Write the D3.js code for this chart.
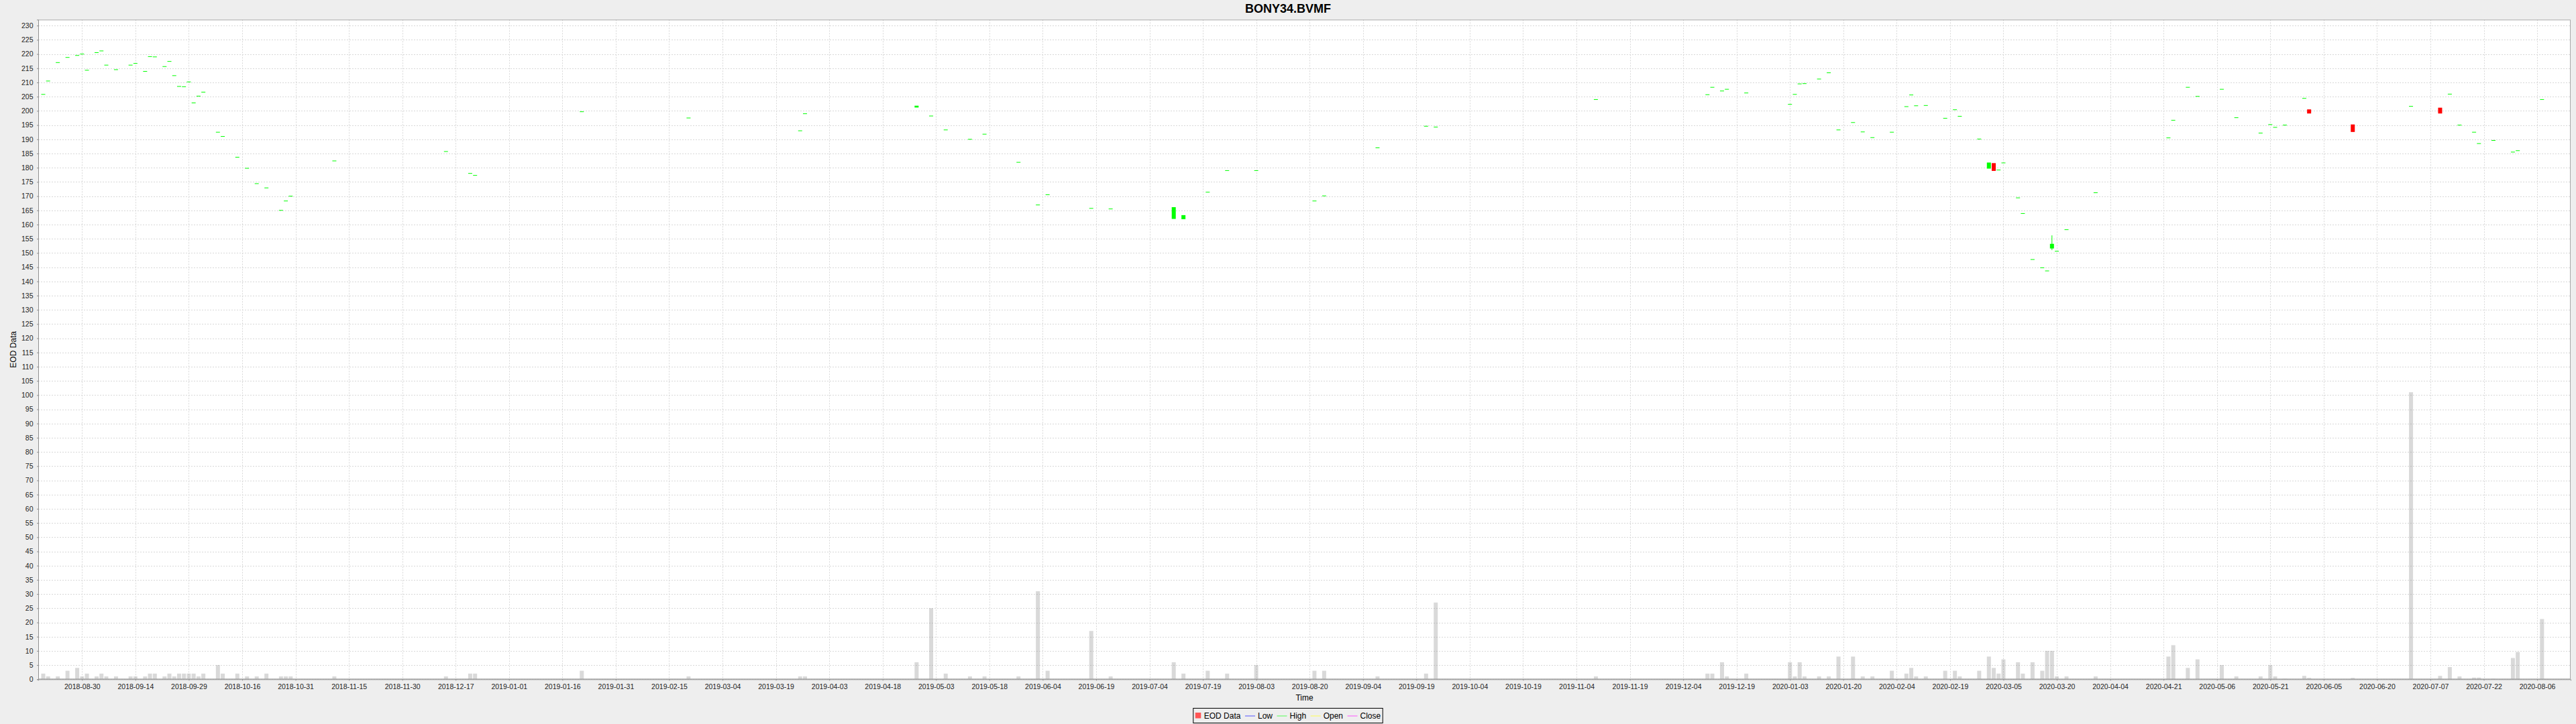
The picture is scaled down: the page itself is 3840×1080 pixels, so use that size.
<!DOCTYPE html>
<html><head><meta charset="utf-8">
<script src="https://cdn.jsdelivr.net/npm/d3@7"></script>
<style>
body{margin:0;background:#eeeeee;}
svg{display:block;}
text{font-family:"Liberation Sans",Arial,sans-serif;}
</style>
</head><body>
<svg id="chart" width="3840" height="1080"></svg>
<script>
const title = "BONY34.BVMF";
const tickLabels = ["2018-08-30","2018-09-14","2018-09-29","2018-10-16","2018-10-31","2018-11-15","2018-11-30","2018-12-17","2019-01-01","2019-01-16","2019-01-31","2019-02-15","2019-03-04","2019-03-19","2019-04-03","2019-04-18","2019-05-03","2019-05-18","2019-06-04","2019-06-19","2019-07-04","2019-07-19","2019-08-03","2019-08-20","2019-09-04","2019-09-19","2019-10-04","2019-10-19","2019-11-04","2019-11-19","2019-12-04","2019-12-19","2020-01-03","2020-01-20","2020-02-04","2020-02-19","2020-03-05","2020-03-20","2020-04-04","2020-04-21","2020-05-06","2020-05-21","2020-06-05","2020-06-20","2020-07-07","2020-07-22","2020-08-06"];
const dates = ["2018-08-20","2018-08-21","2018-08-23","2018-08-27","2018-08-29","2018-08-30","2018-08-31","2018-09-04","2018-09-05","2018-09-06","2018-09-10","2018-09-13","2018-09-14","2018-09-18","2018-09-19","2018-09-20","2018-09-24","2018-09-25","2018-09-26","2018-09-27","2018-09-28","2018-10-01","2018-10-02","2018-10-03","2018-10-04","2018-10-09","2018-10-10","2018-10-15","2018-10-17","2018-10-19","2018-10-23","2018-10-26","2018-10-29","2018-10-30","2018-11-12","2018-12-13","2018-12-20","2018-12-21","2019-01-22","2019-02-21","2019-03-26","2019-03-27","2019-04-29","2019-05-02","2019-05-07","2019-05-14","2019-05-17","2019-05-28","2019-06-03","2019-06-05","2019-06-18","2019-06-24","2019-07-11","2019-07-15","2019-07-22","2019-07-26","2019-08-05","2019-08-21","2019-08-23","2019-09-09","2019-09-23","2019-09-25","2019-11-11","2019-12-12","2019-12-13","2019-12-17","2019-12-18","2019-12-24","2020-01-06","2020-01-07","2020-01-08","2020-01-09","2020-01-14","2020-01-16","2020-01-20","2020-01-23","2020-01-27","2020-01-29","2020-02-04","2020-02-07","2020-02-10","2020-02-11","2020-02-13","2020-02-19","2020-02-21","2020-02-24","2020-02-28","2020-03-03","2020-03-04","2020-03-05","2020-03-06","2020-03-11","2020-03-12","2020-03-16","2020-03-18","2020-03-19","2020-03-20","2020-03-23","2020-03-25","2020-04-02","2020-04-23","2020-04-24","2020-04-29","2020-05-01","2020-05-08","2020-05-13","2020-05-20","2020-05-22","2020-05-25","2020-05-27","2020-06-02","2020-06-03","2020-06-16","2020-07-02","2020-07-10","2020-07-14","2020-07-16","2020-07-21","2020-07-22","2020-07-27","2020-07-31","2020-08-03","2020-08-10"];
const open = [205.8,210.5,217.0,218.8,219.5,220.0,214.3,220.5,221.1,216.1,214.5,216.1,216.7,213.9,219.1,219.0,215.6,217.4,212.4,208.6,208.5,210.2,202.8,205.2,206.6,192.5,191.0,183.7,179.8,174.4,172.9,165.0,168.3,170.0,182.4,185.7,178.0,177.3,199.7,197.5,193.0,199.0,201.3,198.2,193.3,190.0,191.8,181.9,166.9,170.5,165.7,165.5,162.1,162.0,171.4,179.0,179.0,168.3,170.1,187.0,194.6,194.3,204.0,205.7,208.3,207.0,207.6,206.3,202.3,205.8,209.5,209.6,211.2,213.4,193.3,195.9,192.6,190.6,192.5,201.5,205.6,201.8,201.9,197.4,200.4,198.1,190.1,179.8,181.5,179.2,181.7,169.4,163.9,147.7,144.8,143.7,151.7,150.6,158.2,171.2,190.5,196.7,208.3,205.1,207.6,197.6,192.2,195.2,194.2,195.0,204.4,200.4,195.1,201.6,201.0,205.9,195.0,192.5,188.5,189.6,185.5,186.0,204.0];
const close = [205.8,210.5,217.0,218.8,219.5,220.0,214.3,220.5,221.1,216.1,214.5,216.1,216.7,213.9,219.1,219.0,215.6,217.4,212.4,208.6,208.5,210.2,202.8,205.2,206.6,192.5,191.0,183.7,179.8,174.4,172.9,165.0,168.3,170.0,182.4,185.7,178.0,177.3,199.7,197.5,193.0,199.0,201.7,198.2,193.3,190.0,191.8,181.9,166.9,170.5,165.7,165.5,166.0,163.2,171.4,179.0,179.0,168.3,170.1,187.0,194.6,194.3,204.0,205.7,208.3,207.0,207.6,206.3,202.3,205.8,209.5,209.6,211.2,213.4,193.3,195.9,192.6,190.6,192.5,201.5,205.6,201.8,201.9,197.4,200.4,198.1,190.1,181.7,179.0,179.2,181.7,169.4,163.9,147.7,144.8,143.7,153.1,150.6,158.2,171.2,190.5,196.7,208.3,205.1,207.6,197.6,192.2,195.2,194.2,195.0,204.4,199.2,192.7,201.6,199.2,205.9,195.0,192.5,188.5,189.6,185.5,186.0,204.0];
const high = [205.8,210.5,217.0,218.8,219.5,220.0,214.3,220.5,221.1,216.1,214.5,216.1,216.7,213.9,219.1,219.0,215.6,217.4,212.4,208.6,208.5,210.2,202.8,205.2,206.6,192.5,191.0,183.7,179.8,174.4,172.9,165.0,168.3,170.0,182.4,185.7,178.0,177.3,199.7,197.5,193.0,199.0,201.7,198.2,193.3,190.0,191.8,181.9,166.9,170.5,165.7,165.5,166.0,163.2,171.4,179.0,179.0,168.3,170.1,187.0,194.6,194.3,204.0,205.7,208.3,207.0,207.6,206.3,202.3,205.8,209.5,209.6,211.2,213.4,193.3,195.9,192.6,190.6,192.5,201.5,205.6,201.8,201.9,197.4,200.4,198.1,190.1,181.7,181.5,179.2,181.7,169.4,163.9,147.7,144.8,143.7,156.2,150.6,158.2,171.2,190.5,196.7,208.3,205.1,207.6,197.6,192.2,195.2,194.2,195.0,204.4,200.4,195.1,201.6,201.0,205.9,195.0,192.5,188.5,189.6,185.5,186.0,204.0];
const low = [205.8,210.5,217.0,218.8,219.5,220.0,214.3,220.5,221.1,216.1,214.5,216.1,216.7,213.9,219.1,219.0,215.6,217.4,212.4,208.6,208.5,210.2,202.8,205.2,206.6,192.5,191.0,183.7,179.8,174.4,172.9,165.0,168.3,170.0,182.4,185.7,178.0,177.3,199.7,197.5,193.0,199.0,201.3,198.2,193.3,190.0,191.8,181.9,166.9,170.5,165.7,165.5,162.1,162.0,171.4,179.0,179.0,168.3,170.1,187.0,194.6,194.3,204.0,205.7,208.3,207.0,207.6,206.3,202.3,205.8,209.5,209.6,211.2,213.4,193.3,195.9,192.6,190.6,192.5,201.5,205.6,201.8,201.9,197.4,200.4,198.1,190.1,179.8,179.0,179.2,181.7,169.4,163.9,147.7,144.8,143.7,151.0,150.6,158.2,171.2,190.5,196.7,208.3,205.1,207.6,197.6,192.2,195.2,194.2,195.0,204.4,199.2,192.7,201.6,199.2,205.9,195.0,192.5,188.5,189.6,185.5,186.0,204.0];
const volume = [2,1,1,3,4,1,2,1,2,1,1,1,1,1,2,2,1,2,1,2,2,2,2,1,2,5,2,2,1,1,2,1,1,1,1,1,2,2,3,1,1,1,6,25,2,1,1,1,31,3,17,1,6,2,3,2,5,3,3,1,2,27,1,2,2,6,1,2,6,1,6,1,1,1,8,8,1,1,3,2,4,1,1,3,3,1,3,8,4,2,7,6,2,6,3,10,10,1,1,1,8,12,4,7,5,1,1,5,1,0.2,1.2,0.5,0.5,101,1.2,4.3,1,0.6,0.6,0.2,7.5,9.6,21.2];
const legendItems = [
  {label:"EOD Data", type:"box", color:"#ff5555"},
  {label:"Low", type:"line", color:"#5555ff"},
  {label:"High", type:"line", color:"#55ff55"},
  {label:"Open", type:"line", color:"#ffff55"},
  {label:"Close", type:"line", color:"#ff55ff"}
];

// business-day (Mon-Fri) index, like a segmented weekday timeline
function bd(s){
  const t = Date.UTC(+s.slice(0,4), +s.slice(5,7)-1, +s.slice(8,10));
  const days = Math.round((t - Date.UTC(2018,0,1)) / 864e5);
  const w = Math.floor(days/7), d = days - w*7;
  return w*5 + Math.min(d,5);
}

const P = {left:57, top:29.3, right:3832, bottom:1013.3};
const base = bd(tickLabels[0]);
const x = d3.scaleLinear().domain([base-9.03, base+512.9]).range([P.left, P.right]);
const y = d3.scaleLinear().domain([0, 232.1]).range([P.bottom, P.top]);
const xTickVals = tickLabels.map((t,i)=> base + 11*i);
const yTickVals = d3.range(0, 231, 5);

const svg = d3.select("#chart");
svg.append("rect").attr("width",3840).attr("height",1080).attr("fill","#eeeeee");
svg.append("rect").attr("x",P.left).attr("y",P.top).attr("width",P.right-P.left).attr("height",P.bottom-P.top).attr("fill","#ffffff");

// grid
const grid = svg.append("g");
grid.selectAll("line.v").data(xTickVals).join("line")
  .attr("x1",d=>Math.round(x(d))+0.5).attr("x2",d=>Math.round(x(d))+0.5)
  .attr("y1",P.top).attr("y2",P.bottom)
  .attr("stroke","#d8d8d8").attr("stroke-width",1).attr("stroke-dasharray","2,2");
grid.selectAll("line.h").data(yTickVals).join("line")
  .attr("x1",P.left).attr("x2",P.right)
  .attr("y1",d=>Math.round(y(d))+0.5).attr("y2",d=>Math.round(y(d))+0.5)
  .attr("stroke","#d8d8d8").attr("stroke-width",1).attr("stroke-dasharray","2,2");

const data = dates.map((d,i)=>({t:bd(d), o:open[i], h:high[i], l:low[i], c:close[i], v:volume[i]}));
const cw = 6;

// volume bars
svg.append("g").selectAll("rect").data(data).join("rect")
  .attr("x",d=>x(d.t)-cw/2).attr("width",cw)
  .attr("y",d=>y(d.v)).attr("height",d=>P.bottom-y(d.v))
  .attr("fill","rgba(128,128,128,0.3)");

// candles
const cg = svg.append("g");
data.forEach(d=>{
  const col = d.c >= d.o ? "#00ff00" : "#ff0000";
  const cx = x(d.t);
  if (d.h > Math.max(d.o,d.c) || d.l < Math.min(d.o,d.c)) {
    cg.append("line").attr("x1",cx).attr("x2",cx).attr("y1",y(d.h)).attr("y2",y(d.l))
      .attr("stroke",col).attr("stroke-width",1);
  }
  const top = y(Math.max(d.o,d.c)), bot = y(Math.min(d.o,d.c));
  cg.append("rect").attr("x",cx-cw/2).attr("width",cw)
    .attr("y", top - 0.5).attr("height", Math.max(1, bot-top+1))
    .attr("fill",col);
});

// outline
svg.append("rect").attr("x",P.left+0.5).attr("y",P.top+0.5).attr("width",P.right-P.left-1).attr("height",P.bottom-P.top-1)
  .attr("fill","none").attr("stroke","#a8a8a8").attr("stroke-width",1);

// axes
const xAxis = d3.axisBottom(x).tickValues(xTickVals).tickFormat((d,i)=>tickLabels[i]).tickSize(2).tickPadding(5);
const gx = svg.append("g").attr("transform",`translate(0,${P.bottom})`).call(xAxis);
const yAxis = d3.axisLeft(y).tickValues(yTickVals).tickSize(2).tickPadding(5.5);
const gy = svg.append("g").attr("transform",`translate(${P.left},0)`).call(yAxis);
[gx,gy].forEach(g=>{
  g.select(".domain").attr("stroke","#909090");
  g.selectAll(".tick line").attr("stroke","#909090");
  g.selectAll("text").attr("font-family","Liberation Sans, Arial, sans-serif").attr("font-size",10.5).attr("fill","#222");
});

// title and axis labels
svg.append("text").attr("x",1920).attr("y",19).attr("text-anchor","middle")
  .attr("font-size",18).attr("font-weight","bold").attr("fill","#000").text(title);
svg.append("text").attr("x",(P.left+P.right)/2).attr("y",1045).attr("text-anchor","middle")
  .attr("font-size",12).attr("fill","#000").text("Time");
svg.append("text").attr("transform",`translate(24,${(P.top+P.bottom)/2}) rotate(-90)`).attr("text-anchor","middle")
  .attr("font-size",12).attr("fill","#000").text("EOD Data");

// legend
const lg = svg.append("g");
let cx = 0;
legendItems.forEach((it,i)=>{
  const g = lg.append("g");
  if (it.type==="box") {
    g.append("rect").attr("x",cx).attr("y",-4.5).attr("width",8.5).attr("height",8.5).attr("fill",it.color);
    cx += 13;
  } else {
    g.append("line").attr("x1",cx).attr("x2",cx+15).attr("y1",0.5).attr("y2",0.5).attr("stroke",it.color).attr("stroke-width",1);
    cx += 19;
  }
  const t = g.append("text").attr("x",cx).attr("y",4.5).attr("font-size",12).attr("fill","#000").text(it.label);
  cx += t.node().getComputedTextLength() + 6.5;
});
const lw = cx - 6.5 + 6;
const lx = 1920 - lw/2, ly = 1067.5;
lg.attr("transform",`translate(${lx+3},${ly})`);
svg.append("rect").attr("x",lx).attr("y",1056.5).attr("width",lw).attr("height",22)
  .attr("fill","none").attr("stroke","#000").attr("stroke-width",1);
</script>
</body></html>
